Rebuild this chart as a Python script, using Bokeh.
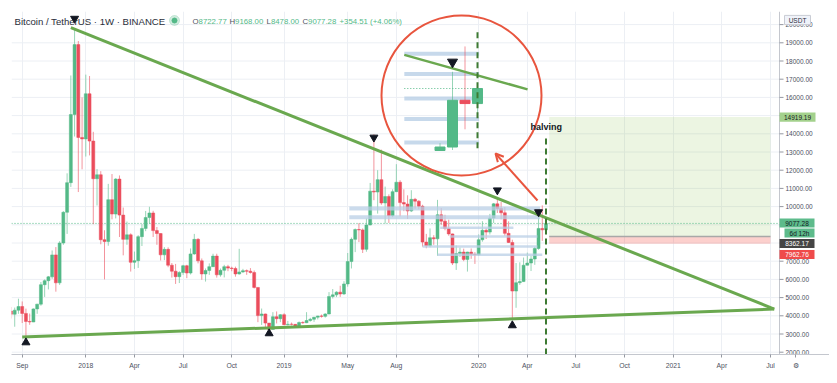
import numpy as np
import pandas as pd
from bokeh.plotting import figure
from bokeh.models import (ColumnDataSource, FixedTicker, Label, Arrow, OpenHead, Range1d)
from bokeh.core.properties import value
from bokeh.embed import file_html
from bokeh.resources import INLINE

# ---------------- data (BTC/USDT weekly) ----------------
first_week = "2017-08-14"
opens = [4261, 4086, 4310, 4509, 4130, 3690, 3660, 4378, 4640, 5710, 5930, 6140, 7345, 5811, 8000, 9687, 11315, 15059, 18900, 13800,
         13717, 16200, 13600, 11530, 11750, 8180, 8080, 10380, 9590, 11512, 9533, 8200, 8450, 6940, 7030, 8350, 8800, 9400, 9650, 8680,
         8520, 7350, 7650, 6780, 6450, 6150, 6380, 6750, 6350, 7400, 8200, 7020, 6300, 6490, 6700, 7280, 6250, 6500, 6700, 6620,
         6600, 6300, 6410, 6480, 6450, 6380, 5560, 4010, 4100, 3600, 3250, 3950, 3840, 4060, 3510, 3535, 3530, 3415, 3630, 3620,
         3740, 3810, 3920, 3990, 3970, 4100, 5060, 5150, 5300, 5200, 5750, 6980, 8200, 8740, 8720, 7650, 8990, 10850, 10800, 11480,
         10200, 10550, 9500, 10820, 11340, 10220, 10140, 9760, 10400, 10300, 10020, 8050, 7850, 8290, 8230, 9550, 9200, 8800, 8500, 6900,
         7420, 7500, 7100, 7500, 7380, 7350, 8180, 8700, 8600, 9370, 10150, 9900, 9660, 8530, 8030, 5360, 5820, 5880, 6780, 6900,
         7120, 7700, 8800, 8722.77]
highs = [4485, 4453, 4939, 4788, 4394, 4123, 4406, 4658, 5856, 6000, 6189, 7590, 7776, 8100, 9749, 11829, 17204, 19798, 19098, 16000,
         17252, 17176, 14109, 12060, 11947, 8700, 11250, 11789, 11565, 11711, 9947, 9177, 8530, 7530, 8430, 9035, 9760, 9990, 9770, 8880,
         8530, 7770, 7760, 6900, 6850, 6450, 6800, 6800, 7700, 8500, 8270, 7150, 6600, 6880, 7410, 7410, 6600, 6800, 6800, 6700,
         6700, 7680, 6580, 6545, 6620, 6490, 5560, 4400, 4120, 3600, 4200, 4240, 4090, 4140, 3720, 3630, 3550, 3690, 3700, 4200,
         3890, 3940, 4000, 4070, 4140, 5300, 5470, 5350, 5650, 5900, 7450, 8300, 8800, 9090, 8800, 9350, 11300, 13970, 12000, 13130,
         11100, 10670, 10950, 12330, 11450, 10950, 10620, 10900, 10480, 10350, 10100, 8500, 8800, 8430, 10370, 9920, 9550, 9280, 8520, 7860,
         7750, 7690, 7520, 7700, 7500, 8470, 9200, 8810, 9600, 10200, 10500, 10250, 9970, 9190, 8180, 6900, 6940, 7200, 7470, 7300,
         7790, 9470, 10067, 9168]
lows = [3850, 3400, 4110, 3603, 2817, 3505, 3653, 4110, 4550, 5037, 5450, 6030, 5325, 5699, 7900, 8500, 11081, 13850, 10800, 12050,
        12750, 12812, 9035, 10060, 7930, 6000, 7850, 9300, 9350, 8329, 7322, 7900, 6430, 6575, 6630, 7835, 8650, 9050, 8330, 7900,
        7040, 7060, 6670, 6100, 5750, 5800, 6250, 6070, 6270, 7350, 6880, 5980, 5880, 6250, 6680, 6100, 6150, 6110, 6450, 6450,
        6150, 6260, 6360, 6250, 6320, 5500, 3650, 3500, 3350, 3156, 3250, 3580, 3650, 3500, 3470, 3470, 3380, 3370, 3560, 3600,
        3680, 3670, 3800, 3900, 3900, 4080, 4950, 5030, 5040, 5150, 5600, 6600, 7500, 8050, 7450, 7520, 8970, 10350, 9615, 10100,
        9070, 9100, 9420, 10800, 9460, 9750, 9320, 9700, 9880, 9850, 7800, 7710, 7760, 7900, 7300, 8980, 8700, 8400, 6790, 6520,
        7230, 7000, 6430, 7130, 6850, 7300, 8070, 8220, 8470, 9100, 9650, 9300, 8400, 8000, 3782, 4440, 5700, 5860, 6770, 6460,
        6800, 7630, 8117, 8478]
closes = [4086, 4310, 4509, 4130, 3690, 3660, 4378, 4640, 5710, 5930, 6140, 7345, 5811, 8000, 9687, 11315, 15059, 18900, 13800, 13717,
          16200, 13600, 11530, 11750, 8180, 8080, 10380, 9590, 11512, 9533, 8200, 8450, 6940, 7030, 8350, 8800, 9400, 9650, 8680, 8520,
          7350, 7650, 6780, 6450, 6150, 6380, 6750, 6350, 7400, 8200, 7020, 6300, 6490, 6700, 7280, 6250, 6500, 6700, 6620, 6600,
          6300, 6410, 6480, 6450, 6380, 5560, 4010, 4100, 3600, 3250, 3950, 3840, 4060, 3510, 3535, 3530, 3415, 3630, 3620, 3740,
          3810, 3920, 3990, 3970, 4100, 5060, 5150, 5300, 5200, 5750, 6980, 8200, 8740, 8720, 7650, 8990, 10850, 10800, 11480, 10200,
          10550, 9500, 10820, 11340, 10220, 10140, 9760, 10400, 10300, 10020, 8050, 7850, 8290, 8230, 9550, 9200, 8800, 8500, 6900, 7420,
          7500, 7100, 7500, 7380, 7350, 8180, 8700, 8600, 9370, 10150, 9900, 9660, 8530, 8030, 5360, 5820, 5880, 6780, 6900, 7120,
          7700, 8800, 8722.77, 9077.28]

tick_dates = ["2017-09-04", "2018-01-01", "2018-04-02", "2018-07-02", "2018-10-01", "2019-01-07", "2019-05-06",
              "2019-08-05", "2020-01-06", "2020-04-06", "2020-07-06", "2020-10-05", "2021-01-04", "2021-04-05", "2021-07-05"]
tick_labels = ["Sep", "2018", "Apr", "Jul", "Oct", "2019", "May", "Aug", "2020", "Apr", "Jul", "Oct", "2021", "Apr", "Jul"]
price_ticks = list(range(2000, 20001, 1000))

# long-position tool
target_price = 14919.19
entry_price = 8362.17
stop_price = 7962.76
position_dates = ["2020-05-17", "2021-07-05"]
countdown = "6d 12h"

# trend lines (date, price)
upper_line_dates = ["2017-12-04", "2021-07-12"]
upper_line_prices = [19830, 4370]
lower_line_dates = ["2017-09-04", "2021-07-12"]
lower_line_prices = [2834, 4370]

# horizontal blue levels
level_prices = [9896, 9420, 8840, 8357, 7808, 7360]
level_starts = ["2019-05-09", "2019-05-09", "2019-10-26", "2019-11-13", "2019-09-23", "2019-10-21"]
level_ends = ["2020-04-30", "2020-04-30", "2020-03-11", "2020-04-25", "2020-04-25", "2020-05-04"]
level_thick = [True, True, False, False, False, False]

# markers
top_marker_dates = ["2017-12-11", "2019-06-24", "2020-02-10", "2020-04-27"]
top_marker_prices = [20330, 13800, 10900, 9700]
bottom_marker_dates = ["2017-09-11", "2018-12-10", "2020-03-09"]
bottom_marker_prices = [2533, 3030, 3470]
halving_date = "2020-05-11"

# ---------------- helpers ----------------
BASE = pd.Timestamp("2017-09-04")


def to_days(s):
    return (pd.to_datetime(s) - BASE) / pd.Timedelta(days=1)


# screen calibration of the reference (used for placing annotations only)
PX0, PX_PER_DAY = 21.7, 0.5345
PY0, PY_PER_USD = 42.3, 0.0182


def d_at(px):
    return (px - PX0) / PX_PER_DAY


def p_at(py):
    return 19000 - (py - PY0) / PY_PER_USD


UP, DOWN = "#53b987", "#eb4d5c"
TREND = "#6aa84f"
RED = "#e8553e"
BAND = "#b9cfe6"
INK = "#131722"
GRID = "#eceff4"
FONT = "Liberation Sans"

dates = pd.date_range(first_week, periods=len(closes), freq="7D")
days = np.array([(d - BASE) / pd.Timedelta(days=1) for d in dates])
BODY_W = 5.6
AXIS_X = d_at(779)
X_START, X_END = d_at(11), d_at(829)
Y_MIN, Y_MAX = p_at(354), p_at(11)

p = figure(width=829, height=375, x_range=Range1d(X_START, X_END), y_range=Range1d(Y_MIN, Y_MAX),
           y_axis_location=None, output_backend="svg", toolbar_location=None,
           min_border_left=11, min_border_top=11, min_border_right=0, min_border_bottom=21)
p.outline_line_color = None
p.background_fill_color = "white"
p.ygrid.grid_line_color = None

# x axis (with the settings gear as last label)
tick_days = [int(round(to_days(t))) for t in tick_dates]
gear_day = int(round(d_at(795)))
p.xaxis.ticker = FixedTicker(ticks=tick_days + [gear_day])
overrides = {d: l for d, l in zip(tick_days, tick_labels)}
overrides[gear_day] = "⚙"
p.xaxis.major_label_overrides = overrides
p.xgrid.ticker = FixedTicker(ticks=tick_days)
p.xgrid.grid_line_color = GRID
ax = p.xaxis[0]
ax.axis_line_color = "#c4c7ce"
ax.major_tick_line_color = "#9598a1"
ax.major_tick_out = 3
ax.major_tick_in = 0
ax.minor_tick_out = 0
ax.minor_tick_in = 0
ax.major_label_text_color = "#4c5060"
ax.major_label_text_font = FONT
ax.major_label_text_font_size = "6.8px"
ax.major_label_standoff = 4

# horizontal grid (stops at the price scale)
p.segment(x0=[X_START] * len(price_ticks), y0=price_ticks, x1=[AXIS_X] * len(price_ticks), y1=price_ticks,
          line_color=GRID, line_width=1)

# long position zones
pd0, pd1 = to_days(position_dates[0]), to_days(position_dates[1])
p.quad(left=[pd0], right=[pd1], bottom=[entry_price], top=[target_price], fill_color="#8bc34a", fill_alpha=0.16, line_color=None)
p.quad(left=[pd0], right=[pd1], bottom=[stop_price], top=[entry_price], fill_color="#f44336", fill_alpha=0.25, line_color=None)
p.segment(x0=[pd0], y0=[entry_price], x1=[pd1], y1=[entry_price], line_color="#a8a8a8", line_width=1.5)

# current price dotted line
p.segment(x0=[X_START], y0=[closes[-1]], x1=[AXIS_X], y1=[closes[-1]], line_color=UP, line_dash="1 2", line_width=1)

# candles
colors = [UP if c >= o else DOWN for o, c in zip(opens, closes)]
src = ColumnDataSource(dict(x=days, top=[max(o, c) for o, c in zip(opens, closes)],
                            bottom=[min(o, c) for o, c in zip(opens, closes)],
                            high=highs, low=lows, color=colors))
p.segment(x0="x", y0="low", x1="x", y1="high", line_color="color", line_alpha=0.6, line_width=1, source=src)
p.vbar(x="x", width=BODY_W, top="top", bottom="bottom", fill_color="color", line_color="color", line_width=0.5, source=src)

# blue levels (drawings sit above the candles)
lv = ColumnDataSource(dict(x0=[to_days(s) for s in level_starts], x1=[to_days(e) for e in level_ends],
                           y=level_prices, w=[4 if t else 2.5 for t in level_thick]))
p.segment(x0="x0", y0="y", x1="x1", y1="y", line_width="w", line_color=BAND, line_alpha=0.75, source=lv)

# trend lines
up_days = [to_days(d) for d in upper_line_dates]
lo_days = [to_days(d) for d in lower_line_dates]
p.line(up_days, upper_line_prices, line_color=TREND, line_width=3)
p.line(lo_days, lower_line_prices, line_color=TREND, line_width=3)

# halving line
hd = to_days(halving_date)
p.segment(x0=[hd], y0=[p_at(138)], x1=[hd], y1=[Y_MIN], line_color="#3d7a32", line_width=2, line_dash="6 4")

# markers
p.scatter([to_days(d) for d in top_marker_dates], top_marker_prices, marker="inverted_triangle", size=8, color=INK)
p.scatter([to_days(d) for d in bottom_marker_dates], bottom_marker_prices, marker="triangle", size=8, color=INK)

# ---------------- magnified inset ----------------
KX, KY = 3.34, 2.335
d_last = days[-1]
ins_d0 = d_at(477)
ins_p0 = p_at(88)
WIN_L, WIN_R = d_at(523.6), d_at(546)
PMIN, PMAX = 7618, 10400


def ix(d):
    return ins_d0 + (np.asarray(d) - d_last) * KX


def iy(pr):
    return ins_p0 + (np.asarray(pr) - closes[-1]) * KY


def upper_at(d):
    return np.interp(d, up_days, upper_line_prices)


ib = [lvl for lvl in level_prices if PMIN < lvl < PMAX]
p.segment(x0=[ix(WIN_L)] * len(ib), y0=list(iy(ib)), x1=[ix(WIN_R)] * len(ib), y1=list(iy(ib)),
          line_color=BAND, line_width=4, line_alpha=0.8)
p.segment(x0=[ix(WIN_L)], y0=[iy(closes[-1])], x1=[ix(d_last)], y1=[iy(closes[-1])],
          line_color=UP, line_dash="1 2", line_width=1)
ic = dict(x=[], top=[], bottom=[], high=[], low=[], color=[])
for d, o, h, l, c, col in zip(days, opens, highs, lows, closes, colors):
    if d < WIN_L - 4:
        continue
    bt, bb = min(max(o, c), PMAX), max(min(o, c), PMIN)
    if bt <= bb:
        continue
    ic["x"].append(float(ix(d)))
    ic["top"].append(float(iy(bt)))
    ic["bottom"].append(float(iy(bb)))
    ic["high"].append(float(iy(min(h, PMAX))))
    ic["low"].append(float(iy(max(l, PMIN))))
    ic["color"].append(col)
isrc = ColumnDataSource(ic)
p.segment(x0="x", y0="low", x1="x", y1="high", line_color="color", line_alpha=0.6, line_width=1, source=isrc)
p.vbar(x="x", width=BODY_W * KX, top="top", bottom="bottom", fill_color="color", line_color="color", source=isrc)
tl_d = [WIN_L, d_at(560.5)]
p.line(list(ix(tl_d)), list(iy(upper_at(tl_d))), line_color=TREND, line_width=2.5)
p.segment(x0=[ix(hd)], y0=[iy(PMAX)], x1=[ix(hd)], y1=[iy(PMIN)], line_color="#3d7a32", line_width=2, line_dash="6 4")
p.scatter([float(ix(to_days(top_marker_dates[-1])))], [float(iy(top_marker_prices[-1]))],
          marker="inverted_triangle", size=10, color=INK)

# circle + arrow
p.scatter([d_at(461)], [p_at(95)], marker="circle", size=160, fill_alpha=0, line_color=RED, line_width=2)
p.add_layout(Arrow(end=OpenHead(size=8, line_color=RED, line_width=2),
                   x_start=d_at(537), y_start=p_at(200), x_end=d_at(495), y_end=p_at(153),
                   line_color=RED, line_width=2))

# ---------------- price scale (drawn inside the frame) ----------------
p.segment(x0=[AXIS_X], y0=[Y_MIN], x1=[AXIS_X], y1=[Y_MAX], line_color="#c4c7ce", line_width=1)
p.segment(x0=[AXIS_X] * len(price_ticks), y0=price_ticks, x1=[d_at(783)] * len(price_ticks), y1=price_ticks,
          line_color="#9598a1", line_width=1)
p.text(x=[d_at(785)] * len(price_ticks), y=price_ticks, text=[f"{t:.2f}" for t in price_ticks],
       text_font=value(FONT), text_font_size=value("6.5px"), text_color="#4c5060",
       text_baseline="middle", text_align="left")

box_text = ["USDT", f"{target_price:.2f}", f"{closes[-1]:.2f}", countdown, f"{entry_price:.2f}", f"{stop_price:.2f}"]
box_py = [19.5, 116.6, 222.5, 232.5, 243.0, 254.0]
box_left = [784, 779, 779, 784, 779, 779]
box_right = [810, 815, 814, 814, 814, 814]
box_fill = ["#f0f3fa", "#a3d18c", "#5dbb8b", "#5dbb8b", "#454545", "#ef4b4b"]
box_line = ["#c9ccd4", None, None, None, None, None]
box_fg = ["#2a2e39", INK, INK, INK, "white", "white"]
for t, py, l, r, f, ln, fg in zip(box_text, box_py, box_left, box_right, box_fill, box_line, box_fg):
    p.quad(left=[d_at(l)], right=[d_at(r)], top=[p_at(py - 4.6)], bottom=[p_at(py + 4.6)],
           fill_color=f, line_color=ln, line_width=1)
    p.text(x=[d_at((l + r) / 2)], y=[p_at(py)], text=[t], text_font=value(FONT), text_font_size=value("6.5px"),
           text_color=fg, text_baseline="middle", text_align="center")

# ---------------- texts ----------------
p.add_layout(Label(x=d_at(530), y=p_at(126), text="halving", text_font=FONT, text_font_style="bold",
                   text_font_size="9px", text_color=INK, text_baseline="middle"))
p.add_layout(Label(x=d_at(14), y=p_at(20.5), text="Bitcoin / TetherUS · 1W · BINANCE", text_font=FONT,
                   text_font_size="9.6px", text_color="#2a2e39", text_baseline="middle"))
p.scatter([d_at(174)], [p_at(20)], marker="circle", size=10, color=UP, alpha=0.25)
p.scatter([d_at(174)], [p_at(20)], marker="circle", size=5, color=UP)
ohlc = [("O", "8722.77", 192), ("H", "9168.00", 229), ("L", "8478.00", 266), ("C", "9077.28", 302)]
letter_w = {"O": 6.1, "H": 5.6, "L": 4.4, "C": 5.6}
for letter, val, x in ohlc:
    p.add_layout(Label(x=d_at(x), y=p_at(20.5), text=letter, text_font=FONT, text_font_size="7.8px",
                       text_color="#50535e", text_baseline="middle"))
    p.add_layout(Label(x=d_at(x + letter_w[letter]), y=p_at(20.5), text=val, text_font=FONT,
                       text_font_size="7.8px", text_color=UP, text_baseline="middle"))
p.add_layout(Label(x=d_at(339), y=p_at(20.5), text="+354.51 (+4.06%)", text_font=FONT, text_font_size="7.8px",
                   text_color=UP, text_baseline="middle"))

open("out.html", "w").write(file_html(p, INLINE))
